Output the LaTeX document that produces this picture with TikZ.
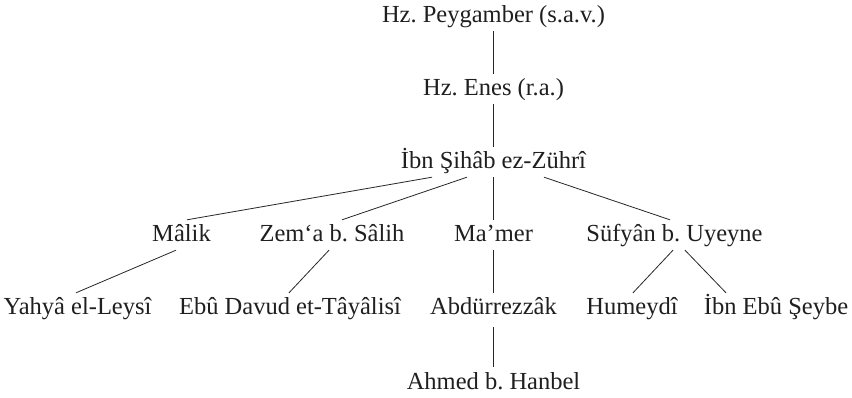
\documentclass[tikz,border=0pt]{standalone}
\usepackage{fontspec}
\setmainfont{Liberation Serif}
\frenchspacing

\begin{document}
\begin{tikzpicture}[x=1pt, y=1pt,
    narrator/.style={font=\fontsize{24.5}{28}\selectfont, text=black!88, anchor=base,
        inner xsep=0pt, inner ysep=5pt, text height=17pt, text depth=3pt},
    link/.style={line width=0.8pt, black!85}]
            \useasboundingbox (0,0) rectangle (852,-398);

            % Main chain
            \node[narrator] (peygamber) at (493.5,-23) {Hz. Peygamber (s.a.v.)};
            \node[narrator] (enes) at (493.5,-96) {Hz. Enes (r.a.)};
            \node[narrator] (zuhri) at (493.5,-169) {İbn Şihâb ez-Zührî};

            % Students of Zührî
            \node[narrator] (malik) at (181.5,-242) {Mâlik};
            \node[narrator] (zema) at (332,-242) {Zem‘a b. Sâlih};
            \node[narrator] (mamer) at (493.5,-242) {Ma’mer};
            \node[narrator] (sufyan) at (674.5,-242) {Süfyân b. Uyeyne};

            % Next generation
            \node[narrator] (yahya) at (77.5,-315) {Yahyâ el-Leysî};
            \node[narrator] (tayalisi) at (290,-315) {Ebû Davud et-Tâyâlisî};
            \node[narrator] (abdurrezzak) at (493.5,-315) {Abdürrezzâk};
            \node[narrator] (humeydi) at (632,-315) {Humeydî};
            \node[narrator] (seybe) at (776,-315) {İbn Ebû Şeybe};
            \node[narrator] (hanbel) at (493.5,-389) {Ahmed b. Hanbel};

            % Links
            \draw[link] (peygamber.south) -- (enes.north);
            \draw[link] (enes.south) -- (zuhri.north);
            \draw[link] ([xshift=-61.5pt]zuhri.south) -- ([xshift=5.5pt]malik.north);
            \draw[link] ([xshift=-26.5pt]zuhri.south) -- ([xshift=10pt]zema.north);
            \draw[link] (zuhri.south) -- (mamer.north);
            \draw[link] ([xshift=50.5pt]zuhri.south) -- ([xshift=-4.5pt]sufyan.north);
            \draw[link] ([xshift=-5.5pt]malik.south) -- ([xshift=-1.5pt]yahya.north);
            \draw[link] ([xshift=-3pt]zema.south) -- ([xshift=-1pt]tayalisi.north);
            \draw[link] (mamer.south) -- (abdurrezzak.north);
            \draw[link] ([xshift=-1.5pt]sufyan.south) -- ([xshift=1pt]humeydi.north);
            \draw[link] ([xshift=10.5pt]sufyan.south) -- ([xshift=-50pt]seybe.north);
            \draw[link] ([yshift=-4pt]abdurrezzak.south) -- (hanbel.north);

        \end{tikzpicture}
\end{document}
